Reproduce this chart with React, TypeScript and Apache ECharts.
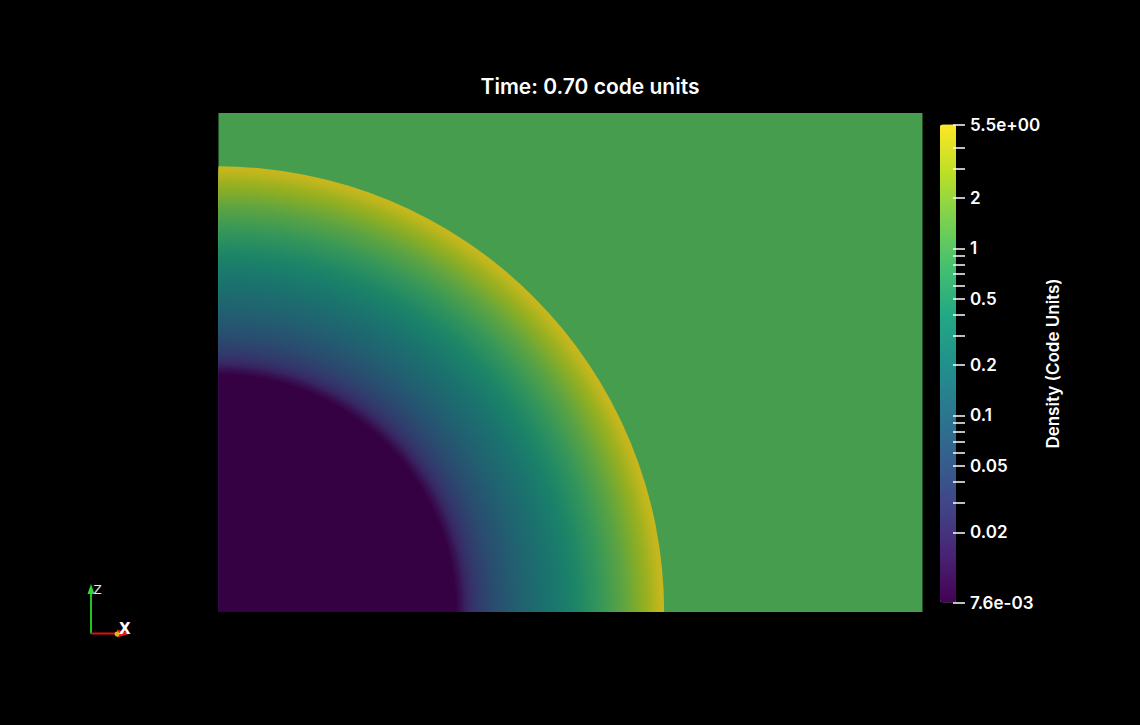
import React, { useEffect, useRef } from "react";
import * as echarts from "echarts";

// ---------- data ----------
const TITLE = "Time: 0.70 code units";
const BAR_TITLE = "Density (Code Units)";
// simulation box (code units)
const BOX_X = [0, 1.0];
const BOX_Z = [0, 0.709];
const AMBIENT_DENSITY = 1.0;
// radial density profile of the blast (radius from lower-left corner)
const RADIUS = [
  0, 0.337, 0.344, 0.351, 0.358, 0.367, 0.376, 0.391, 0.405, 0.419, 0.433,
  0.452, 0.469, 0.486, 0.5, 0.514, 0.528, 0.543, 0.557, 0.571, 0.585, 0.599,
  0.611, 0.619, 0.626, 0.631, 0.633,
];
const DENSITY = [
  0.0076, 0.0077, 0.011, 0.017, 0.024, 0.031, 0.04, 0.056, 0.074, 0.095, 0.12,
  0.16, 0.21, 0.28, 0.35, 0.45, 0.58, 0.76, 1.0, 1.3, 1.75, 2.4, 3.2, 4.1, 5.0,
  5.5, 5.5,
];
const RANGE = [0.0076, 5.5];
const TICK_VALUES = [
  5.5, 4, 3, 2, 1, 0.9, 0.8, 0.7, 0.6, 0.5, 0.4, 0.3, 0.2, 0.1, 0.09, 0.08,
  0.07, 0.06, 0.05, 0.04, 0.03, 0.02, 0.0076,
];
const LABEL_VALUES = [5.5, 2, 1, 0.5, 0.2, 0.1, 0.05, 0.02, 0.0076];
const LABEL_TEXTS = ["5.5e+00", "2", "1", "0.5", "0.2", "0.1", "0.05", "0.02", "7.6e-03"];

// ---------- styles ----------
const VIRIDIS = [
  "#440154", "#482475", "#414487", "#355f8d", "#2a788e", "#21918c",
  "#22a884", "#44bf70", "#7ad151", "#bddf26", "#fde725",
];
const SHADE = 0.79; // lit surface is darker than the colour bar
const FONT = "Inter, Lato, sans-serif";

const LOGMIN = Math.log10(RANGE[0]);
const LOGMAX = Math.log10(RANGE[1]);

function hexToRgb(h: string) {
  const n = parseInt(h.slice(1), 16);
  return [(n >> 16) & 255, (n >> 8) & 255, n & 255];
}
const DARK = VIRIDIS.map((h) => hexToRgb(h).map((c) => c * SHADE));

function colorOf(d: number) {
  let t = (Math.log10(d) - LOGMIN) / (LOGMAX - LOGMIN);
  t = Math.max(0, Math.min(1, t));
  const f = t * (DARK.length - 1);
  const i = Math.min(DARK.length - 2, Math.floor(f));
  const k = f - i;
  const a = DARK[i];
  const b = DARK[i + 1];
  const c = a.map((v, j) => Math.round(v + (b[j] - v) * k));
  return `rgb(${c[0]},${c[1]},${c[2]})`;
}

export default function App() {
  const ref = useRef<HTMLDivElement>(null);
  useEffect(() => {
    if (!ref.current) return;
    const chart = echarts.init(ref.current, undefined, { renderer: "svg" });

    const boxData = [[BOX_X[0], BOX_X[1], BOX_Z[0], BOX_Z[1], AMBIENT_DENSITY, Math.log10(AMBIENT_DENSITY)]];
    const rings: number[][] = [];
    for (let i = RADIUS.length - 1; i >= 1; i--) {
      rings.push([RADIUS[i - 1], RADIUS[i], DENSITY[i - 1], DENSITY[i]]);
    }

    const labelFor = (v: number) => {
      for (let i = 0; i < LABEL_VALUES.length; i++) {
        if (Math.abs(Math.log10(LABEL_VALUES[i]) - v) < 1e-6) return LABEL_TEXTS[i];
      }
      return "";
    };

    chart.setOption({
      animation: false,
      backgroundColor: "#000000",
      grid: [
        { left: 218.5, top: 113, width: 704, height: 499, outerBoundsMode: "none" },
        { left: 940, top: 124.5, width: 13, height: 478, outerBoundsMode: "none" },
      ],
      xAxis: [
        { type: "value", gridIndex: 0, min: BOX_X[0], max: BOX_X[1], show: false },
        { type: "value", gridIndex: 1, min: 0, max: 1, show: false },
      ],
      yAxis: [
        { type: "value", gridIndex: 0, min: BOX_Z[0], max: BOX_Z[1], show: false },
        {
          type: "value",
          gridIndex: 1,
          position: "right",
          z: 10,
          min: LOGMIN,
          max: LOGMAX,
          axisLine: { show: false, onZero: false },
          splitLine: { show: false },
          axisTick: {
            show: true,
            inside: false,
            length: 12,
            customValues: TICK_VALUES.map((v) => Math.log10(v)),
            lineStyle: { color: "#ffffff", width: 1.5 },
          },
          axisLabel: {
            show: true,
            margin: 17,
            customValues: LABEL_VALUES.map((v) => Math.log10(v)),
            formatter: (v: number) => labelFor(v),
            color: "#ffffff",
            fontSize: 17,
            fontWeight: 600,
            fontFamily: FONT,
          },
          name: BAR_TITLE,
          nameLocation: "middle",
          nameRotate: 90,
          nameGap: 90,
          nameTextStyle: { color: "#ffffff", fontSize: 17, fontWeight: 600, fontFamily: FONT },
        },
      ],
      visualMap: [
        {
          type: "continuous",
          show: true,
          seriesIndex: 0,
          dimension: 5,
          min: LOGMIN,
          max: LOGMAX,
          calculable: false,
          hoverLink: false,
          left: 940,
          top: 124.5,
          padding: 0,
          itemWidth: 16,
          itemHeight: 478,
          text: null,
          z: 2,
          inRange: { color: VIRIDIS },
          textStyle: { color: "#ffffff" },
        },
      ],
      series: [
        {
          type: "custom",
          xAxisIndex: 0,
          yAxisIndex: 0,
          silent: true,
          data: boxData,
          renderItem: (params: any, api: any) => {
            const p0 = api.coord([api.value(0), api.value(3)]);
            const p1 = api.coord([api.value(1), api.value(2)]);
            return {
              type: "rect",
              shape: { x: p0[0], y: p0[1], width: p1[0] - p0[0], height: p1[1] - p0[1] },
              style: { fill: colorOf(api.value(4)) },
            };
          },
        },
        {
          type: "custom",
          xAxisIndex: 0,
          yAxisIndex: 0,
          silent: true,
          data: rings,
          renderItem: (params: any, api: any) => {
            const o = api.coord([0, 0]);
            const pIn = api.coord([api.value(0), 0]);
            const pOut = api.coord([api.value(1), 0]);
            const R = pOut[0] - o[0];
            const Ri = pIn[0] - o[0];
            const c0 = colorOf(api.value(2));
            const c1 = colorOf(api.value(3));
            return {
              type: "sector",
              shape: { cx: o[0], cy: o[1], r0: 0, r: R, startAngle: -Math.PI / 2, endAngle: 0, clockwise: true },
              style: {
                fill: {
                  type: "radial",
                  x: o[0],
                  y: o[1],
                  r: R,
                  global: true,
                  colorStops: [
                    { offset: 0, color: c0 },
                    { offset: Ri / R, color: c0 },
                    { offset: 1, color: c1 },
                  ],
                },
              },
            };
          },
        },
      ],
      graphic: [
        {
          type: "text",
          x: 590,
          y: 86,
          style: {
            text: TITLE,
            fill: "#ffffff",
            fontSize: 21,
            fontWeight: 600,
            fontFamily: FONT,
            align: "center",
            verticalAlign: "middle",
          },
        },
        // orientation triad
        { type: "line", shape: { x1: 91, y1: 633.5, x2: 91, y2: 592 }, style: { stroke: "#1cc41c", lineWidth: 2 } },
        { type: "polygon", shape: { points: [[91, 584], [87.5, 594], [94.5, 594]] }, style: { fill: "#2ed82e" } },
        { type: "text", x: 93.5, y: 590, style: { text: "Z", fill: "#e8e8e8", fontSize: 12, fontFamily: "DejaVu Sans", verticalAlign: "middle" } },
        { type: "line", shape: { x1: 91, y1: 633.5, x2: 118, y2: 633.5 }, style: { stroke: "#dd0f0f", lineWidth: 2 } },
        { type: "polygon", shape: { points: [[131, 633.5], [117, 629.5], [117, 637.5]] }, style: { fill: "#e51c1c" } },
        { type: "circle", shape: { cx: 117, cy: 634, r: 2.5 }, style: { fill: "#d8b81c" } },
        { type: "text", x: 119, y: 628.5, z: 5, style: { text: "X", fill: "#ffffff", fontSize: 15, fontWeight: "bold", fontFamily: "DejaVu Sans", verticalAlign: "middle" } },
      ],
    });
    return () => chart.dispose();
  }, []);

  return (
    <div
      ref={ref}
      style={{ position: "fixed", left: 0, top: 0, width: 1140, height: 725, background: "#000" }}
    />
  );
}
